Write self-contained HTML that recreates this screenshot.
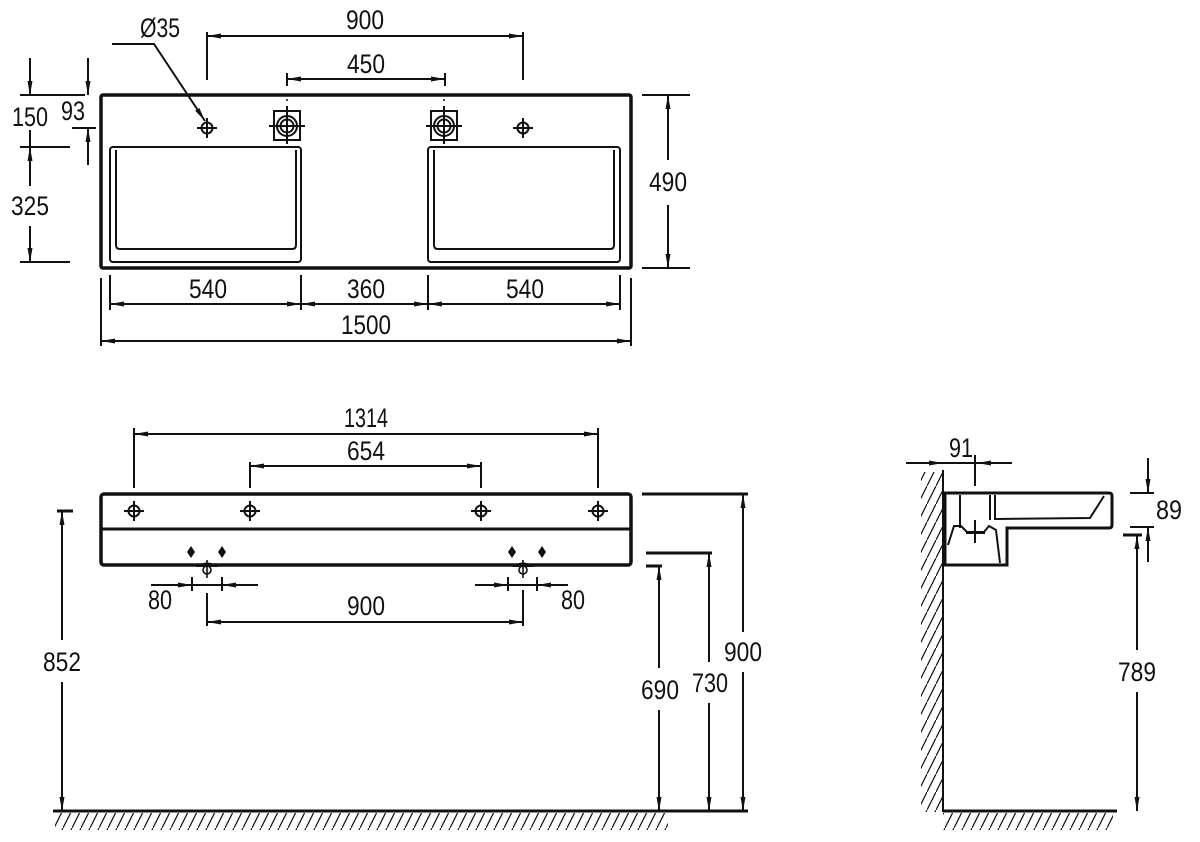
<!DOCTYPE html>
<html><head><meta charset="utf-8"><style>
html,body{margin:0;padding:0;background:#fff}
svg{display:block}
text{font-family:"Liberation Sans",sans-serif;font-size:27px;fill:#111;text-anchor:middle}
</style></head><body>
<svg width="1200" height="842" viewBox="0 0 1200 842" xmlns="http://www.w3.org/2000/svg">
<defs>
<marker id="a" markerWidth="14" markerHeight="6" refX="14" refY="3" orient="auto-start-reverse" markerUnits="userSpaceOnUse">
<path d="M0,0.5 L14,3 L0,5.5 Z" fill="#111"/></marker>
<pattern id="h" width="9" height="18" patternUnits="userSpaceOnUse">
<line x1="0" y1="18" x2="9" y2="0" stroke="#111" stroke-width="1.2"/></pattern>
<g id="cr"><circle r="5.5" fill="none" stroke="#111" stroke-width="2"/><line x1="-10" y1="0" x2="10" y2="0" stroke="#111" stroke-width="2"/><line x1="0" y1="-10" x2="0" y2="10" stroke="#111" stroke-width="2"/></g>
<g id="ov"><rect x="-13" y="-15" width="26" height="29" fill="none" stroke="#111" stroke-width="2"/><circle r="10" fill="none" stroke="#111" stroke-width="2"/><circle r="6.5" fill="none" stroke="#111" stroke-width="2"/><line x1="-18" y1="0" x2="18" y2="0" stroke="#111" stroke-width="2"/><line x1="0" y1="-20" x2="0" y2="18" stroke="#111" stroke-width="2"/><circle cy="-26" r="1" fill="#111"/></g>
</defs>
<g stroke="#111" fill="none" stroke-width="2">
<rect x="101" y="95" width="530" height="173" rx="2" stroke-width="3.5"/>
<rect x="110" y="147" width="191" height="115" rx="3"/>
<path d="M116,150 V245 q0,4 4,4 H292 q4,0 4,-4 V150"/>
<rect x="428" y="147" width="192" height="115" rx="3"/>
<path d="M434,150 V245 q0,4 4,4 H610 q4,0 4,-4 V150"/>
<line x1="207" y1="32" x2="207" y2="80"/><line x1="523" y1="32" x2="523" y2="80"/>
<line x1="207" y1="36" x2="523" y2="36" marker-start="url(#a)" marker-end="url(#a)"/>
<line x1="287" y1="73" x2="287" y2="86"/><line x1="445" y1="73" x2="445" y2="86"/>
<line x1="287" y1="79" x2="445" y2="79" marker-start="url(#a)" marker-end="url(#a)"/>
<polyline points="112,44 154,44 205,121" marker-end="url(#a)"/>
<line x1="20" y1="95" x2="85" y2="95"/><line x1="20" y1="147" x2="70" y2="147"/><line x1="20" y1="262" x2="70" y2="262"/>
<line x1="30" y1="58" x2="30" y2="95" marker-end="url(#a)"/>
<line x1="30" y1="130" x2="30" y2="147"/>
<line x1="30" y1="186" x2="30" y2="147" marker-end="url(#a)"/>
<line x1="30" y1="226" x2="30" y2="262" marker-end="url(#a)"/>
<line x1="72" y1="128" x2="96" y2="128"/>
<line x1="88" y1="58" x2="88" y2="95" marker-end="url(#a)"/>
<line x1="88" y1="165" x2="88" y2="128" marker-end="url(#a)"/>
<line x1="642" y1="95" x2="690" y2="95"/><line x1="642" y1="268" x2="690" y2="268"/>
<line x1="668" y1="160" x2="668" y2="95" marker-end="url(#a)"/>
<line x1="668" y1="205" x2="668" y2="268" marker-end="url(#a)"/>
<line x1="101" y1="278" x2="101" y2="346"/><line x1="631" y1="278" x2="631" y2="346"/>
<line x1="110" y1="275" x2="110" y2="310"/><line x1="301" y1="275" x2="301" y2="310"/>
<line x1="428" y1="275" x2="428" y2="310"/><line x1="620" y1="275" x2="620" y2="310"/>
<line x1="110" y1="304" x2="301" y2="304" marker-start="url(#a)" marker-end="url(#a)"/>
<line x1="301" y1="304" x2="428" y2="304" marker-start="url(#a)" marker-end="url(#a)"/>
<line x1="428" y1="304" x2="620" y2="304" marker-start="url(#a)" marker-end="url(#a)"/>
<line x1="101" y1="341" x2="631" y2="341" marker-start="url(#a)" marker-end="url(#a)"/>

<rect x="101" y="494" width="530" height="71" rx="3" stroke-width="3.5"/>
<line x1="101" y1="529" x2="631" y2="529" stroke-width="3"/>
<line x1="134" y1="428" x2="134" y2="488"/><line x1="598" y1="428" x2="598" y2="488"/>
<line x1="134" y1="434" x2="598" y2="434" marker-start="url(#a)" marker-end="url(#a)"/>
<line x1="250" y1="462" x2="250" y2="488"/><line x1="481" y1="462" x2="481" y2="488"/>
<line x1="250" y1="466" x2="481" y2="466" marker-start="url(#a)" marker-end="url(#a)"/>
<line x1="151" y1="585" x2="192" y2="585" marker-end="url(#a)"/><line x1="258" y1="585" x2="222" y2="585" marker-end="url(#a)"/>
<line x1="192" y1="577" x2="192" y2="591"/><line x1="222" y1="577" x2="222" y2="591"/><line x1="192" y1="585" x2="222" y2="585"/>
<line x1="475" y1="585" x2="508" y2="585" marker-end="url(#a)"/><line x1="568" y1="585" x2="537" y2="585" marker-end="url(#a)"/>
<line x1="508" y1="577" x2="508" y2="591"/><line x1="537" y1="577" x2="537" y2="591"/><line x1="508" y1="585" x2="537" y2="585"/>
<line x1="207" y1="593" x2="207" y2="626"/><line x1="523" y1="590" x2="523" y2="626"/>
<line x1="207" y1="622" x2="523" y2="622" marker-start="url(#a)" marker-end="url(#a)"/>
<line x1="57" y1="511" x2="73" y2="511" stroke-width="3"/>
<line x1="62" y1="640" x2="62" y2="511" marker-end="url(#a)"/>
<line x1="62" y1="682" x2="62" y2="811" marker-end="url(#a)"/>
<line x1="642" y1="494" x2="748" y2="494" stroke-width="3"/>
<line x1="646" y1="553" x2="712" y2="553" stroke-width="3"/>
<line x1="646" y1="566" x2="662" y2="566" stroke-width="3"/>
<line x1="659" y1="668" x2="659" y2="566" marker-end="url(#a)"/>
<line x1="659" y1="710" x2="659" y2="811" marker-end="url(#a)"/>
<line x1="709" y1="662" x2="709" y2="553" marker-end="url(#a)"/>
<line x1="709" y1="703" x2="709" y2="811" marker-end="url(#a)"/>
<line x1="743" y1="632" x2="743" y2="494" marker-end="url(#a)"/>
<line x1="743" y1="672" x2="743" y2="811" marker-end="url(#a)"/>
<line x1="53" y1="811" x2="748" y2="811" stroke-width="3"/>

<line x1="943" y1="470" x2="943" y2="812" stroke-width="2"/>
<line x1="943" y1="811" x2="1117" y2="811" stroke-width="3"/>
<path d="M945,493 H1109 q3,0 3,3 V525 q0,3 -3,3 H1007 V565 H945 Z" stroke-width="3"/>
<path d="M960,495 V528 M990,495 V520 M995,495 V519 L1090,518 L1104,496" stroke-width="2"/>
<path d="M948,545 L954,526 L961,526 L967,532 L984,532 L989,526 L996,530 L1000,563" stroke-width="2"/>
<line x1="975" y1="520" x2="975" y2="543"/>
<line x1="966" y1="533" x2="985" y2="533"/>
<line x1="906" y1="463" x2="943" y2="463" marker-end="url(#a)"/>
<line x1="1012" y1="463" x2="977" y2="463" marker-end="url(#a)"/>
<line x1="943" y1="463" x2="977" y2="463"/>
<line x1="975" y1="455" x2="975" y2="486"/>
<line x1="1130" y1="493" x2="1154" y2="493"/><line x1="1130" y1="527" x2="1154" y2="527"/>
<line x1="1148" y1="458" x2="1148" y2="493" marker-end="url(#a)"/>
<line x1="1148" y1="562" x2="1148" y2="527" marker-end="url(#a)"/>
<line x1="1123" y1="535" x2="1142" y2="535" stroke-width="3"/>
<line x1="1137" y1="650" x2="1137" y2="535" marker-end="url(#a)"/>
<line x1="1137" y1="692" x2="1137" y2="811" marker-end="url(#a)"/>
</g>
<use href="#cr" x="207" y="128"/><use href="#cr" x="523" y="128"/>
<use href="#ov" x="287" y="126"/><use href="#ov" x="444" y="126"/>
<use href="#cr" x="134" y="511"/><use href="#cr" x="250" y="511"/><use href="#cr" x="481" y="511"/><use href="#cr" x="598" y="511"/>
<g fill="#111">
<path d="M191,546 l4,6 -4,6 -4,-6z M222,546 l4,6 -4,6 -4,-6z M512,546 l4,6 -4,6 -4,-6z M542,546 l4,6 -4,6 -4,-6z"/>
<path d="M196,567 q11,-9 22,0z M512,567 q11,-9 22,0z"/>
</g>
<g stroke="#111" stroke-width="1.6" fill="none">
<circle cx="207" cy="570" r="4"/><line x1="207" y1="560" x2="207" y2="578"/>
<circle cx="523" cy="570" r="4"/><line x1="523" y1="560" x2="523" y2="578"/>
</g>
<rect x="55" y="813" width="613" height="17" fill="url(#h)"/>
<rect x="943" y="813" width="170" height="17" fill="url(#h)"/>
<rect x="921" y="472" width="21" height="340" fill="url(#h)"/>
<g lengthAdjust="spacingAndGlyphs">
<text x="365" y="29" textLength="38" lengthAdjust="spacingAndGlyphs">900</text>
<text x="366" y="73" textLength="38" lengthAdjust="spacingAndGlyphs">450</text>
<text x="160" y="37" textLength="40" lengthAdjust="spacingAndGlyphs">Ø35</text>
<text x="30" y="126" textLength="36" lengthAdjust="spacingAndGlyphs">150</text>
<text x="73" y="120" textLength="24" lengthAdjust="spacingAndGlyphs">93</text>
<text x="30" y="215" textLength="38" lengthAdjust="spacingAndGlyphs">325</text>
<text x="668" y="191" textLength="38" lengthAdjust="spacingAndGlyphs">490</text>
<text x="208" y="298" textLength="38" lengthAdjust="spacingAndGlyphs">540</text>
<text x="366" y="298" textLength="38" lengthAdjust="spacingAndGlyphs">360</text>
<text x="525" y="298" textLength="38" lengthAdjust="spacingAndGlyphs">540</text>
<text x="366" y="334" textLength="50" lengthAdjust="spacingAndGlyphs">1500</text>
<text x="366" y="427" textLength="44" lengthAdjust="spacingAndGlyphs">1314</text>
<text x="366" y="460" textLength="38" lengthAdjust="spacingAndGlyphs">654</text>
<text x="160" y="609" textLength="24" lengthAdjust="spacingAndGlyphs">80</text>
<text x="573" y="609" textLength="24" lengthAdjust="spacingAndGlyphs">80</text>
<text x="366" y="615" textLength="38" lengthAdjust="spacingAndGlyphs">900</text>
<text x="62" y="671" textLength="38" lengthAdjust="spacingAndGlyphs">852</text>
<text x="660" y="699" textLength="38" lengthAdjust="spacingAndGlyphs">690</text>
<text x="710" y="692" textLength="36" lengthAdjust="spacingAndGlyphs">730</text>
<text x="743" y="661" textLength="38" lengthAdjust="spacingAndGlyphs">900</text>
<text x="961" y="457" textLength="24" lengthAdjust="spacingAndGlyphs">91</text>
<text x="1169" y="519" textLength="26" lengthAdjust="spacingAndGlyphs">89</text>
<text x="1137" y="681" textLength="38" lengthAdjust="spacingAndGlyphs">789</text>
</g>
</svg>
</body></html>
